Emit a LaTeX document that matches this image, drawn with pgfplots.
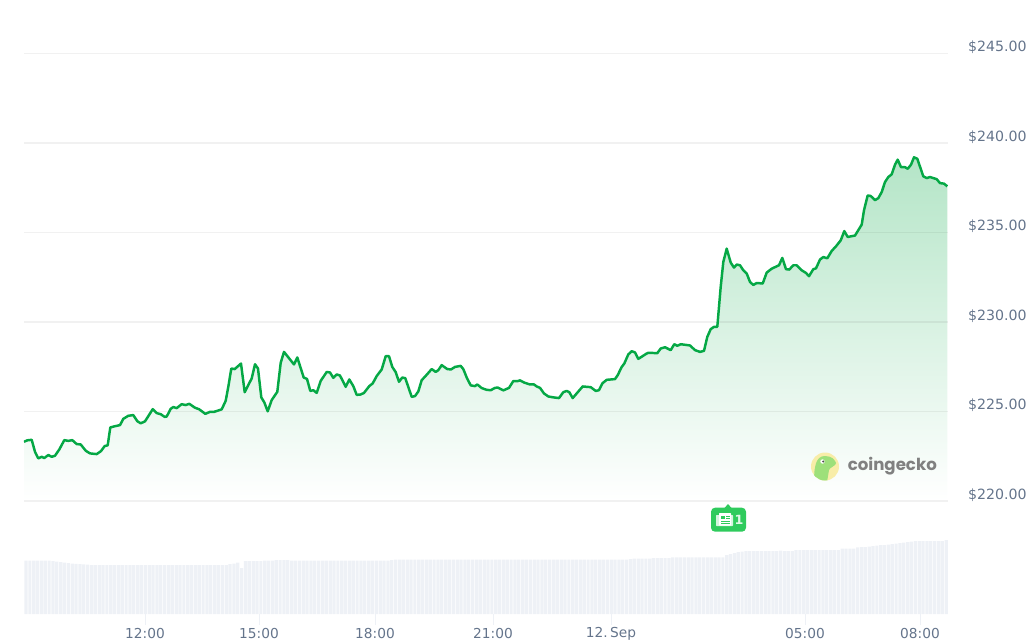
\documentclass[border=0pt]{standalone}
\usepackage{fontspec}
\setmainfont{DejaVu Sans}
\newfontfamily\logofont{Poppins}
\usepackage{pgfplots}
\usepackage{pgfplotstable}
\pgfplotsset{compat=1.18}
\definecolor{lineg}{HTML}{05A845}
\definecolor{fillg}{HTML}{B4E5C7}
\definecolor{volc}{HTML}{EEF1F6}
\definecolor{labc}{HTML}{64748B}
\definecolor{badge}{HTML}{2FCB5D}
\definecolor{logoy}{HTML}{F8EDA8}
\definecolor{logog}{HTML}{9DE07A}
\pgfplotstableread{
x y
24 223.31
27.3 223.39
31.7 223.42
35 222.75
38.3 222.38
41.7 222.47
44.3 222.40
48.3 222.57
51.7 222.47
55 222.53
59.3 222.88
64.3 223.40
68.3 223.36
72.3 223.40
76.7 223.18
80.7 223.16
85.7 222.81
90 222.66
96.7 222.62
101 222.79
104.7 223.07
107.7 223.11
110.3 224.11
114.3 224.17
120 224.24
123.3 224.59
128.3 224.76
133.3 224.80
137.3 224.46
140.7 224.34
145 224.45
148.3 224.74
152.7 225.13
156.7 224.91
160.7 224.85
164.7 224.70
166.7 224.72
170.7 225.15
173.3 225.25
176.7 225.19
181.7 225.41
185.7 225.36
189.3 225.43
195 225.21
199 225.13
205.3 224.87
210 224.98
214 224.98
221.7 225.12
225.7 225.60
228.3 226.38
231.3 227.40
234.7 227.37
241 227.68
244.7 226.08
251.7 226.85
255 227.64
258 227.40
261.3 225.79
264.3 225.51
267.7 225.01
271.7 225.64
277.3 226.10
280.7 227.72
284 228.33
294 227.63
297.3 228.02
303.7 226.90
307 226.82
310.3 226.15
313.3 226.19
316.7 226.04
320.7 226.71
326.7 227.21
330 227.18
333.3 226.88
336.7 227.07
340 227.01
345.7 226.38
349.3 226.79
353.3 226.42
356.7 225.93
360.7 225.95
364 226.04
369.3 226.42
372.7 226.57
376.7 226.98
381.7 227.35
385.7 228.09
389 228.09
392.3 227.49
395.7 227.20
399 226.66
402.3 226.90
405.3 226.86
411.7 225.82
415 225.86
418.3 226.12
421.7 226.75
426 227.01
431.7 227.37
435.7 227.21
438.3 227.31
441.7 227.59
447.3 227.37
451 227.35
455 227.49
460.7 227.55
463.3 227.37
466.7 226.90
470.7 226.46
475 226.42
477.3 226.51
481.7 226.31
486.7 226.21
490.7 226.19
495 226.32
497.7 226.34
503.3 226.18
509 226.32
513.3 226.70
517.7 226.70
520 226.74
524 226.62
530 226.51
534 226.51
536.7 226.40
540 226.32
544 226.01
548.3 225.84
553.3 225.79
559 225.75
563.3 226.08
566.7 226.15
569.3 226.08
572.7 225.75
582.7 226.40
590.7 226.36
595.7 226.15
599 226.19
602.3 226.57
606.7 226.77
615 226.81
617.7 227.03
621.7 227.49
624.3 227.68
628.3 228.19
631.7 228.37
635 228.30
638.3 227.94
646.7 228.24
648.3 228.28
657.3 228.26
660.7 228.52
665 228.59
670.7 228.43
674.3 228.76
677.3 228.67
680.7 228.76
690 228.69
695 228.43
700 228.33
704 228.39
707.3 229.17
710.7 229.60
714 229.73
717.3 229.73
720.7 231.96
723.3 233.35
726.7 234.10
730.7 233.32
734 233.04
736.7 233.21
740 233.17
743.3 232.89
746.7 232.71
750 232.24
753.3 232.07
756.7 232.18
762.7 232.15
766.7 232.76
771.7 232.98
779 233.17
782.3 233.58
786 232.95
789.3 232.93
793.3 233.17
796.7 233.17
801.7 232.89
806 232.74
809 232.56
813.3 232.95
816 233.00
820 233.49
823.3 233.63
827.3 233.56
831.7 233.97
836 234.23
840.7 234.56
844.3 235.08
847.7 234.75
855 234.83
861.7 235.44
864 236.24
867.7 237.07
870.7 237.04
875 236.81
878.3 236.92
881.7 237.26
885 237.82
888.3 238.10
891.7 238.25
895 238.79
897.7 239.07
901 238.65
905 238.65
907.7 238.56
911 238.79
914 239.20
917.3 239.12
923.3 238.14
926.7 238.04
930 238.10
936.7 237.98
940 237.76
944 237.73
947.3 237.58
}\pricedata
\pgfplotstableread{
v
53.3
53.3
53.3
53.3
53.3
53.3
53.3
52.8
52.5
52
51.5
51
50.5
50.2
50
49.6
49.3
49
49
49
49
49
49
49
49
49
49
49
49
49
49
49
49
49
49
49
49
49
49
49
49
49
49
49
49
49
49
49
49
49
49
49
49
50
50.5
51.5
46
53
53
53
53
53
53.5
53.5
53.5
54
54
54
54
53.5
53.5
53.5
53.5
53.5
53.5
53.5
53.5
53.5
53.5
53.5
53.5
53.5
53.5
53.5
53.5
53.5
53.5
53.5
53.5
53.5
53.5
53.5
53.5
53.5
53.5
54
54.5
54.5
54.5
54.5
54.5
54.5
54.5
54.5
54.5
54.5
54.5
54.5
54.5
54.5
54.5
54.5
54.5
54.5
54.5
54.5
54.5
54.5
54.5
54.5
54.5
54.5
54.5
54.5
54.5
54.5
54.5
54.5
54.5
54.5
54.5
54.5
54.5
54.5
54.5
54.5
54.5
54.5
54.5
54.5
54.5
54.5
54.5
54.5
54.5
54.5
54.5
54.5
54.5
54.5
54.5
54.5
54.5
54.5
54.5
54.5
54.5
55
55.5
55.5
55.5
55.5
55.5
56
56
56
56
56
56.7
56.7
56.7
56.7
56.7
56.7
56.7
56.7
56.7
56.7
56.7
56.7
56.7
56.7
59
60
61
62
62.5
63
63
63
63
63
63
63
63
63
63.5
63
63
63
64
64
64
64
64
64
64
64
64
64
64
64
65.3
65.3
65.3
65.3
66.7
67
67
67.5
68
68.5
69
69
69.5
70
70.5
71
71.5
72
72.5
73
73
73
73
73
73
73
73
74
73.5
73
}\voldata
\begin{document}
\begin{tikzpicture}
\path[use as bounding box] (0,0) rectangle (774pt,-482.25pt);
% volume
\begin{axis}[
  scale only axis, width=693pt, height=84.75pt,
  at={(18pt,-460.5pt)}, anchor=south west,
  xmin=24, xmax=948, ymin=0, ymax=113,
  axis line style={draw=none},
  ytick=\empty,
  xtick={145,259,375,493,611,805,920},
  xticklabels={12:00,15:00,18:00,21:00,12.\hspace{0.18em}Sep,05:00,08:00},
  xtick pos=bottom, tick align=outside,
  major tick length=8pt,
  tick style={color=volc, line width=0.7pt},
  xticklabel style={font=\fontsize{10.3pt}{12pt}\selectfont, text=labc, anchor=center, yshift=-6.7pt},
]
\addplot[ybar, bar width=2.4pt, draw=none, fill=volc] table[x expr=\coordindex*3.85+26, y=v] {\voldata};
\end{axis}
% price fill
\begin{axis}[
  scale only axis, width=693pt, height=355.76pt,
  at={(18pt,-375.75pt)}, anchor=south west,
  xmin=24, xmax=948, ymin=220, ymax=246.5,
  hide axis,
]
\addplot[draw=none, shade, top color=fillg, bottom color=white] table[x=x,y=y] {\pricedata} \closedcycle;
\end{axis}
% price line with grid
\begin{axis}[
  scale only axis, width=693pt, height=355.76pt,
  at={(18pt,-375.75pt)}, anchor=south west,
  xmin=24, xmax=948, ymin=220, ymax=246.5,
  axis line style={draw=none},
  xtick=\empty,
  ytick={220,225,230,235,240,245},
  yticklabels={\$220.00,\$225.00,\$230.00,\$235.00,\$240.00,\$245.00},
  ytick pos=right, major tick length=0pt,
  ymajorgrids, grid style={black, opacity=0.055, line width=0.8pt},
  yticklabel style={font=\fontsize{10.6pt}{12pt}\selectfont, text=labc, anchor=west, xshift=11.6pt, yshift=4.6pt},
]
\addplot[color=lineg, line width=1.85pt, line join=round] table[x=x,y=y] {\pricedata};
\end{axis}
% logo and badge
\begin{scope}[x=.75pt,y=-.75pt]
\fill[logoy] (825,466.5) circle (14);
\begin{scope}
\clip (825,466.5) circle (14);
\fill[logog] (814,482) .. controls (814,466) and (816,456) .. (825,456) .. controls (832,456) and (835,460) .. (836,463) .. controls (836,466) and (830,467) .. (829,470) -- (827,482) -- cycle;
\end{scope}
\fill[white] (822.5,461.5) circle (2.2);
\fill[black!70] (823.2,461.5) circle (1.2);
\node[anchor=west, inner sep=0pt, text=black!50] at (847.5,466.5) {\logofont\bfseries\fontsize{12.45pt}{15pt}\selectfont coingecko};
\fill[badge] (724.5,508) -- (728,504) -- (731.5,508) -- cycle;
\fill[badge, rounded corners=3] (711,507.7) rectangle (746,531.7);
\fill[white!80!badge, rounded corners=0.5] (716,515) rectangle (733,526);
\fill[white, rounded corners=0.5] (719,513) rectangle (731,525.5);
\fill[badge] (721,515.5) rectangle (725,519);
\draw[badge, line width=0.6pt] (726,516) -- (729.5,516) (726,518.5) -- (729.5,518.5) (721,521) -- (729.5,521) (721,523) -- (729.5,523);
\node[inner sep=0pt, text=white!85!badge] at (739,520) {\bfseries\fontsize{9.5pt}{11pt}\selectfont 1};
\end{scope}
\end{tikzpicture}
\end{document}
